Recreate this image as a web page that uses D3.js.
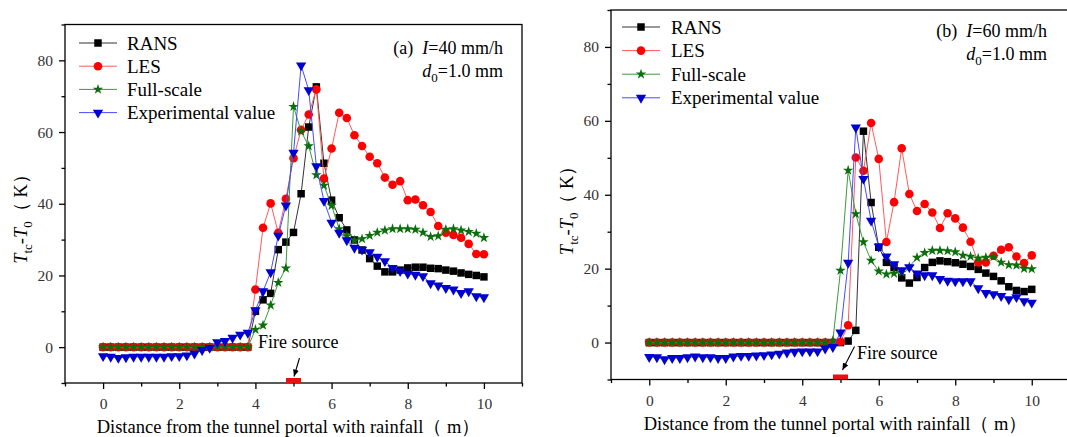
<!DOCTYPE html>
<html>
<head>
<meta charset="utf-8">
<script src="https://cdn.jsdelivr.net/npm/d3@7"></script>
<style>
  body { margin: 0; background: #fff; }
  text { font-family: "Liberation Serif", "Times New Roman", serif; }
</style>
</head>
<body>
<svg id="chart" width="1067" height="437"></svg>
<script>
// distance along the tunnel (m), one point every 0.2 m
const distance = [0, 0.2, 0.4, 0.6, 0.8, 1, 1.2, 1.4, 1.6, 1.8, 2, 2.2, 2.4, 2.6, 2.8, 3, 3.2, 3.4, 3.6, 3.8,
  4, 4.2, 4.4, 4.6, 4.8, 5, 5.2, 5.4, 5.6, 5.8, 6, 6.2, 6.4, 6.6, 6.8, 7, 7.2, 7.4, 7.6, 7.8,
  8, 8.2, 8.4, 8.6, 8.8, 9, 9.2, 9.4, 9.6, 9.8, 10];

const seriesNames = ["RANS", "LES", "Full-scale", "Experimental value"];
const xTicks = [0, 2, 4, 6, 8, 10];
const xMinor = [-1, 1, 3, 5, 7, 9, 11];
const yTicks = [0, 20, 40, 60, 80];
const yMinor = [-10, 10, 30, 50, 70, 90];

// (a) I = 40 mm/h
const ransA = [0, 0, 0, 0, 0, 0, 0, 0, 0, 0, 0, 0, 0, 0, 0, 0, 0, 0, 0, 0,
  10, 13.2, 15, 27.2, 29.3, 32, 42.8, 61.4, 72.6, 51.3, 41, 36.1, 32.7, 29.9, 27.1, 24.7, 22.6, 21, 21, 21.5,
  22.1, 22.3, 22.3, 22, 21.9, 21.5, 21.2, 20.7, 20.3, 20, 19.6];
const lesA = [0, 0, 0, 0, 0, 0, 0, 0, 0, 0, 0, 0, 0, 0, 0, 0, 0, 0, 0, 0,
  16.1, 33.3, 40.1, 31.9, 41.4, 52.7, 60.6, 64.9, 71.9, 47, 55.4, 65.4, 63.9, 59.1, 56.1, 53.1, 51.3, 47.3, 45.3, 46.3,
  41, 41.2, 39.6, 37.7, 33.8, 31.9, 31.3, 30.5, 28.8, 26, 25.9];
const fullA = [0, 0, 0, 0, 0, 0, 0, 0, 0, 0, 0, 0, 0, 0, 0, 0, 0, 0, 0, 0,
  4.9, 6.1, 11.7, 18, 22, 67.1, 60.2, 56.1, 48, 45.1, 39.5, 33, 31, 29.8, 30.2, 31.1, 32, 32.6, 33, 33,
  33, 32.8, 32, 30.8, 31, 32.8, 33, 32.6, 32.2, 31.7, 30.5];
const expA = [-2.5, -2.7, -3, -2.8, -2.7, -2.7, -2.7, -2.7, -2.7, -2.5, -2.5, -2.3, -1.8, -0.8, -0.2, 1.4, 1.7, 2.6, 3.5, 4,
  10.3, 15.6, 20.9, 31.1, 39.5, 54.2, 78.6, 71.7, 50.5, 40.8, 34.7, 31.9, 29.8, 27.7, 27.2, 26.5, 25.2, 24, 22.1, 21.2,
  20.5, 20.2, 19.8, 17.8, 17.2, 16.5, 16.1, 15.1, 15.6, 14.2, 13.9];

// (b) I = 60 mm/h
const ransB = [0, 0, 0, 0, 0, 0, 0, 0, 0, 0, 0, 0, 0, 0, 0, 0, 0, 0, 0, 0,
  0, 0, 0, 0, 0, 0, 0.4, 3.3, 57.2, 37.9, 25.8, 21.7, 20.3, 17.5, 16.1, 17.6, 20.3, 21.7, 22.1, 21.9,
  21.6, 21.2, 20.6, 19.8, 18.8, 17.9, 16.7, 15.1, 14.1, 13.8, 14.4];
const lesB = [0, 0, 0, 0, 0, 0, 0, 0, 0, 0, 0, 0, 0, 0, 0, 0, 0, 0, 0, 0,
  0, 0, 0, 0, 0, 0.2, 4.7, 50.1, 46.5, 59.4, 49.7, 27.2, 38, 52.6, 40.2, 35.6, 37.5, 35.2, 31, 35,
  33.6, 31.1, 27.3, 21.7, 21.7, 23.5, 25.1, 25.8, 23.3, 21.5, 23.6];
const fullB = [0, 0, 0, 0, 0, 0, 0, 0, 0, 0, 0, 0, 0, 0, 0, 0, 0, 0, 0, 0,
  0, 0, 0, 0, 0.5, 19.5, 46.6, 34.8, 27.2, 22.2, 19.3, 18.5, 18.7, 19, 20.5, 23, 24.3, 24.9, 24.9, 24.8,
  24.5, 23.6, 23.3, 22.8, 23, 23.2, 21.7, 21, 20.9, 20, 19.9];
const expB = [-3.9, -4, -4.5, -4.2, -4.2, -4, -3.8, -4, -4, -4.2, -4.2, -3.8, -3.6, -3.6, -3.5, -3.4, -3.2, -3, -2.7, -2.5,
  -2.4, -2.4, -2.4, -1.6, -1.2, 2.7, 21.6, 58.2, 44.3, 33, 26, 23.3, 21.2, 19.6, 20.4, 18.7, 18.2, 18.2, 17.2, 16.7,
  16.6, 16.6, 16.6, 14.7, 13.4, 13.1, 12.6, 11.7, 12.3, 11.2, 10.8];

const svg = d3.select("#chart");
const SERIF = "'Liberation Serif','Times New Roman',serif";

// marker + line look for each series (same order as seriesNames)
const looks = [
  { line: "#333", fill: "#000", sym: d3.symbolSquare, size: 56, rot: 0 },
  { line: "#ff5a5a", fill: "#ff0000", sym: d3.symbolCircle, size: 58, rot: 0 },
  { line: "#3c9a3c", fill: "#0a6e0a", sym: d3.symbolStar, size: 34, rot: 0 },
  { line: "#4a4aff", fill: "#0000d0", sym: d3.symbolTriangle, size: 46, rot: 180 }
];

// arrowhead for the fire source pointer
svg.append("defs").append("marker")
  .attr("id", "arrow")
  .attr("markerUnits", "userSpaceOnUse")
  .attr("markerWidth", 8).attr("markerHeight", 8)
  .attr("refX", 7).attr("refY", 3)
  .attr("orient", "auto")
  .append("path").attr("d", "M0,0 L7,3 L0,6 Z").attr("fill", "#000");

function drawPanel(p) {
  const x = d3.scaleLinear().domain([-1, 11]).range([p.left, p.right]);
  const y = d3.scaleLinear().domain([-10, 90]).range([p.bottom, p.top]);
  const g = svg.append("g").attr("font-family", SERIF);

  // axes: major + minor ticks pointing outwards
  g.append("g").attr("transform", `translate(0,${p.bottom})`)
    .call(d3.axisBottom(x).tickValues(xTicks).tickSize(6).tickPadding(9));
  g.append("g").attr("transform", `translate(0,${p.bottom})`)
    .call(d3.axisBottom(x).tickValues(xMinor).tickSize(3.5).tickFormat(""));
  g.append("g").attr("transform", `translate(${p.left},0)`)
    .call(d3.axisLeft(y).tickValues(yTicks).tickSize(6).tickPadding(6));
  g.append("g").attr("transform", `translate(${p.left},0)`)
    .call(d3.axisLeft(y).tickValues(yMinor).tickSize(3.5).tickFormat(""));
  g.selectAll(".domain").remove();
  g.selectAll(".tick line").attr("stroke", "#000").attr("stroke-width", 1.3);
  g.selectAll(".tick text").attr("font-size", 15.5).attr("fill", "#333")
    .attr("font-family", SERIF);

  // frame
  g.append("rect")
    .attr("x", p.left).attr("y", p.top)
    .attr("width", p.right - p.left).attr("height", p.bottom - p.top)
    .attr("fill", "none").attr("stroke", "#000").attr("stroke-width", 1.3);

  // fire source mark on the bottom axis
  g.append("rect")
    .attr("x", x(5) - 7.5).attr("y", p.bottom - 5)
    .attr("width", 15).attr("height", 5)
    .attr("fill", "#e81010");
  g.append("line")
    .attr("x1", x(5) + p.arrow[0]).attr("y1", p.bottom + p.arrow[1])
    .attr("x2", x(5) + p.arrow[2]).attr("y2", p.bottom + p.arrow[3])
    .attr("stroke", "#000").attr("stroke-width", 1.1)
    .attr("marker-end", "url(#arrow)");
  g.append("text")
    .attr("x", x(5) + p.fireText[0]).attr("y", p.bottom + p.fireText[1])
    .attr("font-size", 18).text("Fire source");

  // series
  const line = d3.line().x(d => x(d[0])).y(d => y(d[1]));
  p.series.forEach((vals, i) => {
    const pts = distance.map((d, k) => [d, vals[k]]);
    const lk = looks[i];
    g.append("path").datum(pts)
      .attr("d", line)
      .attr("fill", "none").attr("stroke", lk.line).attr("stroke-width", 1);
    g.append("g").selectAll("path").data(pts).join("path")
      .attr("d", d3.symbol(lk.sym, lk.size))
      .attr("transform", d => `translate(${x(d[0])},${y(d[1])}) rotate(${lk.rot})`)
      .attr("fill", lk.fill);
  });

  // legend
  seriesNames.forEach((name, i) => {
    const ly = p.legend.y0 + i * p.legend.dy;
    const lk = looks[i];
    g.append("line")
      .attr("x1", p.legend.x1).attr("x2", p.legend.x2)
      .attr("y1", ly).attr("y2", ly)
      .attr("stroke", lk.line).attr("stroke-width", 1);
    g.append("path")
      .attr("d", d3.symbol(lk.sym, lk.size)())
      .attr("transform", `translate(${(p.legend.x1 + p.legend.x2) / 2},${ly}) rotate(${lk.rot})`)
      .attr("fill", lk.fill);
    g.append("text")
      .attr("x", p.legend.tx).attr("y", ly + 6.5)
      .attr("font-size", 19).text(name);
  });

  // condition label
  const c1 = g.append("text").attr("x", p.cond.x).attr("y", p.cond.y1)
    .attr("text-anchor", "end").attr("font-size", 18).style("white-space", "pre");
  c1.append("tspan").text(p.tag + "  ");
  c1.append("tspan").attr("font-style", "italic").text("I");
  c1.append("tspan").text("=" + p.intensity + " mm/h");
  const c2 = g.append("text").attr("x", p.cond.x).attr("y", p.cond.y2)
    .attr("text-anchor", "end").attr("font-size", 18);
  c2.append("tspan").attr("font-style", "italic").text("d");
  c2.append("tspan").attr("font-size", 13).attr("dy", 5).text("0");
  c2.append("tspan").attr("dy", -5).text("=1.0 mm");

  // axis titles
  g.append("text")
    .attr("x", x(5) - 5).attr("y", p.bottom + 50)
    .attr("text-anchor", "middle").attr("font-size", 18.5)
    .text("Distance from the tunnel portal with rainfall（ m）");

  const yt = g.append("text")
    .attr("transform", `translate(${p.left - 38},${y(37)}) rotate(-90)`)
    .attr("text-anchor", "middle").attr("font-size", 18.5);
  yt.append("tspan").attr("font-style", "italic").text("T");
  yt.append("tspan").attr("font-size", 13).attr("dy", 5).text("tc");
  yt.append("tspan").attr("dy", -5).text("-");
  yt.append("tspan").attr("font-style", "italic").text("T");
  yt.append("tspan").attr("font-size", 13).attr("dy", 5).text("0");
  yt.append("tspan").attr("dy", -5).text("（ K）");
}

drawPanel({
  left: 65, right: 522, top: 24.5, bottom: 383,
  series: [ransA, lesA, fullA, expA],
  legend: { x1: 79, x2: 117, y0: 43, dy: 23.2, tx: 127 },
  cond: { x: 503, y1: 54, y2: 77 },
  tag: "(a)", intensity: 40,
  arrow: [6, -25, 0.5, -6.5],
  fireText: [-35.5, -35]
});

drawPanel({
  left: 611, right: 1070, top: 10, bottom: 379.5,
  series: [ransB, lesB, fullB, expB],
  legend: { x1: 622, x2: 660, y0: 27, dy: 23.6, tx: 671 },
  cond: { x: 1047, y1: 37, y2: 60 },
  tag: "(b)", intensity: 60,
  arrow: [14, -33, 2, -9.5],
  fireText: [16.5, -20.5]
});
</script>
</body>
</html>
